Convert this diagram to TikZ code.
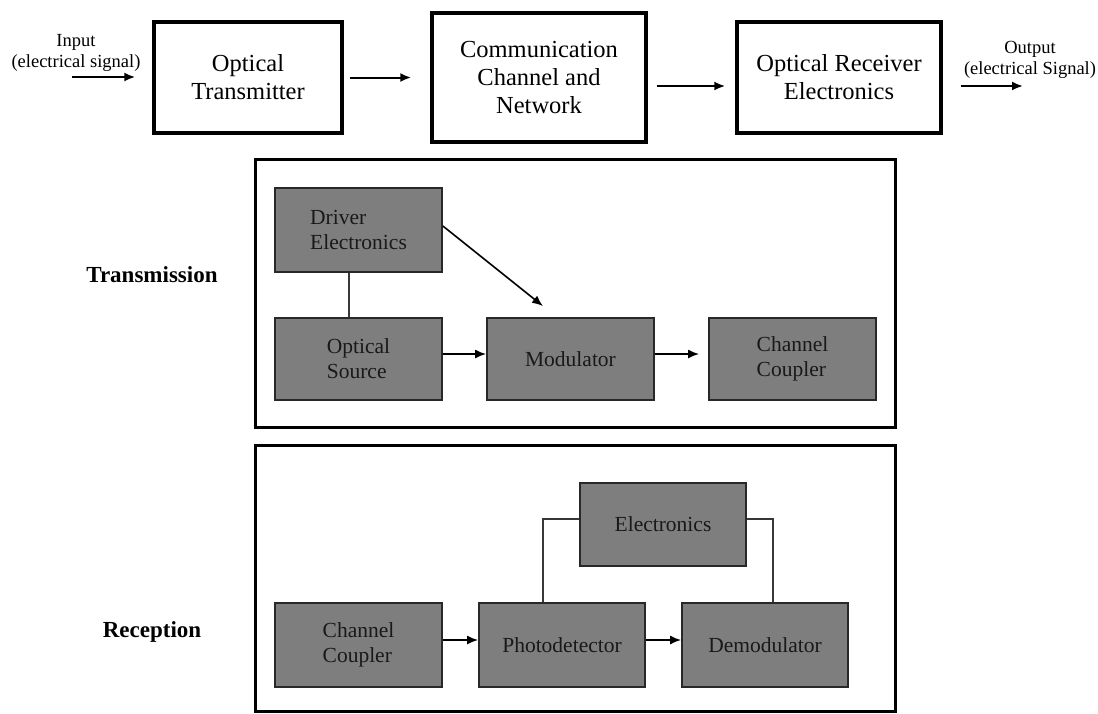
\documentclass[tikz,border=0pt]{standalone}
\usepackage{fontspec}
\setmainfont{Liberation Serif}
\usetikzlibrary{arrows.meta}
\definecolor{boxgrey}{RGB}{126,126,126}
\definecolor{boxedge}{RGB}{40,40,40}
\definecolor{textdark}{RGB}{25,25,25}
\definecolor{linkgrey}{RGB}{55,55,55}
\tikzset{
  topbox/.style={draw=black, line width=3.5pt, rectangle, inner sep=0pt, align=center,
    font=\fontsize{24.5}{28}\selectfont},
  panelbox/.style={draw=black, line width=3pt, rectangle, inner sep=0pt},
  greybox/.style={fill=boxgrey, draw=boxedge, line width=1.8pt, rectangle, inner sep=0pt,
    align=left, text=textdark, font=\fontsize{21.5}{25}\selectfont},
  sidelabel/.style={font=\fontsize{23}{27}\selectfont\bfseries},
  iolabel/.style={align=center, font=\fontsize{18.5}{21}\selectfont, inner sep=0pt},
  arr/.style={-{Latex[length=11pt,width=9pt]}, line width=1.6pt, draw=black},
  toparr/.style={arr, line width=2pt},
  link/.style={line width=1.6pt, draw=linkgrey}
}
\begin{document}
\begin{tikzpicture}[x=1pt,y=-1pt]
\useasboundingbox (0,0) rectangle (1098,713);
\fill[white] (0,0) rectangle (1098,713);

% top row
\node[iolabel] (inlab) at (76,52.5) {Input\\(electrical signal)};
\node[iolabel] (outlab) at (1030,60) {Output\\(electrical Signal)};
\node[topbox, minimum width=188pt, minimum height=111pt] (ot) at (248,77.5) {Optical\\Transmitter};
\node[topbox, minimum width=214pt, minimum height=129pt] (comm) at (539,77.5) {Communication\\Channel and\\Network};
\node[topbox, minimum width=204pt, minimum height=111pt] (rx) at (839,77.5) {Optical Receiver\\Electronics};
\coordinate (inS) at (72,77);
\coordinate (outE) at (1023,86);
\draw[toparr, shorten >=17pt] (inS) -- (ot.west |- inS);
\draw[toparr, shorten <=6pt, shorten >=19pt] (ot.east) -- (comm.west |- ot.east);
\draw[toparr, shorten <=9pt, shorten >=10pt] (comm.east |- outE) -- (rx.west |- outE);
\draw[toparr, shorten <=18pt] (rx.east |- outE) -- (outE);

% transmission panel
\node[sidelabel] (tlab) at (152,275) {Transmission};
\node[panelbox, minimum width=640pt, minimum height=268pt] (tpanel) at (575,293) {};
\node[greybox, minimum width=167pt, minimum height=84pt] (drv) at (358.5,230) {Driver\\Electronics};
\node[greybox, minimum width=167pt, minimum height=82pt] (src) at (358.5,359) {Optical\\Source};
\node[greybox, minimum width=167pt, minimum height=82pt] (mod) at (570.5,359) {Modulator};
\node[greybox, minimum width=167pt, minimum height=82pt] (cc1) at (792.5,359) {Channel\\Coupler};
\draw[link] ([xshift=-9.5pt]drv.south) -- ([xshift=-9.5pt]src.north);
\draw[arr] ([yshift=4pt]drv.east) -- ([xshift=-27.5pt,yshift=11pt]mod.north);
\draw[arr] ([yshift=5pt]src.east) -- ([yshift=5pt]mod.west);
\draw[arr, shorten >=9pt] ([yshift=5pt]mod.east) -- ([yshift=5pt]cc1.west);

% reception panel
\node[sidelabel] (rlab) at (152,632) {Reception};
\node[panelbox, minimum width=640pt, minimum height=266pt] (rpanel) at (575,578) {};
\node[greybox, minimum width=166pt, minimum height=83pt] (elec) at (663,524.5) {Electronics};
\node[greybox, minimum width=167pt, minimum height=84pt] (cc2) at (358.5,645) {Channel\\Coupler};
\node[greybox, minimum width=166pt, minimum height=84pt] (pd) at (562,645) {Photodetector};
\node[greybox, minimum width=166pt, minimum height=84pt] (dem) at (765,645) {Demodulator};
\draw[link] ([xshift=-19pt]pd.north) |- ([yshift=5.5pt]elec.west);
\draw[link] ([yshift=5.5pt]elec.east) -| ([xshift=8pt]dem.north);
\draw[arr] ([yshift=5pt]cc2.east) -- ([yshift=5pt]pd.west);
\draw[arr] ([yshift=5pt]pd.east) -- ([yshift=5pt]dem.west);
\end{tikzpicture}
\end{document}
